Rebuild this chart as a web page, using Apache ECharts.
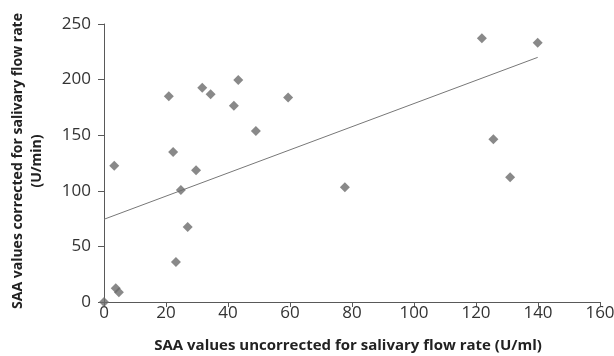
<!DOCTYPE html>
<html>
<head>
<meta charset="utf-8">
<script src="https://cdn.jsdelivr.net/npm/echarts@6/dist/echarts.min.js"></script>
<style>
  html, body { margin: 0; padding: 0; background: #fff; }
  #chart { width: 614px; height: 356px; }
</style>
</head>
<body>
<div id="chart"></div>
<script>
// values
const saaUncorrected = [0, 3.3, 3.8, 4.8, 20.9, 22.3, 23.2, 24.8, 27, 29.7, 31.7, 34.4, 41.9, 43.3, 49, 59.4, 77.7, 121.9, 125.6, 131, 139.9]
const saaCorrected = [0, 122.6, 12.3, 8.7, 185, 134.9, 36, 100.7, 67.4, 118.4, 192.7, 186.8, 176.5, 199.6, 153.8, 184, 103.1, 237.1, 146.3, 112.1, 233.2]

// linear trendline end points
const trendX = [0, 139.9]
const trendY = [74.4, 220]

const xTicks = [0, 20, 40, 60, 80, 100, 120, 140, 160]
const yTicks = [0, 50, 100, 150, 200, 250]

const myChart = echarts.init(document.getElementById("chart"))

const axisColor = "#595959"
const font = "'Open Sans', 'Liberation Sans', sans-serif"

const option = {
  animation: false,
  grid: {
    left: 104,
    right: 14,
    top: 24,
    bottom: 54,
    containLabel: false,
    outerBoundsMode: "none"
  },
  xAxis: {
    type: "value",
    min: xTicks[0],
    max: xTicks[xTicks.length - 1],
    interval: 20,
    name: "SAA values uncorrected for salivary flow rate (U/ml)",
    nameLocation: "middle",
    nameGap: 36,
    nameTextStyle: {
      fontFamily: font,
      fontSize: 15,
      fontWeight: "bold",
      color: "#222",
      padding: [0, 8, 0, 0]
    },
    axisLine: { show: true, lineStyle: { color: axisColor, width: 1 } },
    axisTick: { show: true, length: 5, lineStyle: { color: axisColor } },
    axisLabel: { fontFamily: font, fontSize: 17, color: "#333", margin: 3 },
    splitLine: { show: false }
  },
  yAxis: {
    type: "value",
    min: yTicks[0],
    max: yTicks[yTicks.length - 1],
    interval: 50,
    name: "SAA values corrected for salivary flow rate\n(U/min)",
    nameLocation: "middle",
    nameRotate: 90,
    nameGap: 57,
    nameTextStyle: {
      fontFamily: font,
      fontSize: 14,
      fontWeight: "bold",
      color: "#222",
      lineHeight: 19,
      padding: [0, 0, 0, 4]
    },
    axisLine: { show: true, lineStyle: { color: axisColor, width: 1 } },
    axisTick: { show: true, length: 6, lineStyle: { color: axisColor } },
    axisLabel: { fontFamily: font, fontSize: 17, color: "#333", margin: 13 },
    splitLine: { show: false }
  },
  series: [
    {
      name: "trend",
      type: "line",
      data: trendX.map((x, i) => [x, trendY[i]]),
      showSymbol: false,
      symbol: "none",
      lineStyle: { color: "#777", width: 1 },
      z: 1
    },
    {
      name: "SAA",
      type: "scatter",
      symbol: "diamond",
      symbolSize: 10,
      data: saaUncorrected.map((x, i) => [x, saaCorrected[i]]),
      itemStyle: { color: "#6b6b6b" },
      z: 2
    }
  ]
}
myChart.setOption(option, true)
</script>
</body>
</html>
